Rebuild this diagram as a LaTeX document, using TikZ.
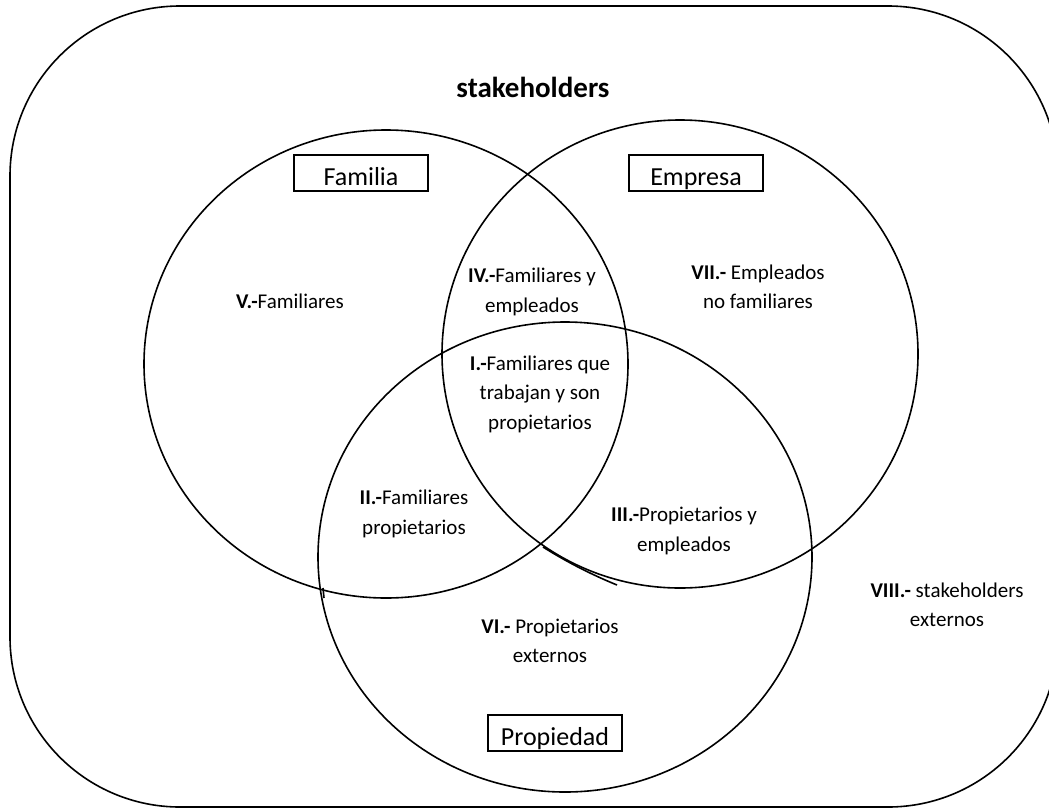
\documentclass[tikz,border=0pt]{standalone}
\usepackage{fontspec}
\setmainfont{Carlito}
\usetikzlibrary{positioning}

\tikzset{
  region/.style={align=center, inner sep=0pt, font=\fontsize{21}{29.5}\selectfont},
  setname/.style={draw, line width=1.5pt, minimum width=134pt, minimum height=36pt,
    inner sep=0pt, text height=24pt, text depth=0pt, font=\fontsize{26}{30}\selectfont},
  outline/.style={line width=1.6pt}
}

\begin{document}
\begin{tikzpicture}[x=1pt, y=-1pt]
  \useasboundingbox (0,0) rectangle (1049,809);

  \begin{scope}
    \clip (0,0) rectangle (1049,809);
    \draw[outline, rounded corners=170pt] (10,6) rectangle (1058,807);
  \end{scope}

  \node[font=\bfseries\fontsize{29}{34}\selectfont] at (533,87) (title) {stakeholders};

  \draw[outline] (386,364) ellipse [x radius=242, y radius=234];
  \draw[outline] (680,354) ellipse [x radius=238, y radius=234];
  \draw[outline] (565,557) ellipse [x radius=247, y radius=235];
  \draw[outline] (543,547) .. controls (570,564) and (595,576) .. (617,585);
  \draw[outline] (323,588) -- (324,598);

  \node[setname] at (361,173) (familia) {Familia};
  \node[setname] at (696,173) (empresa) {Empresa};
  \node[setname] at (555,733) (propiedad) {Propiedad};

  \node[region] at (290,301) (r5) {\textbf{V.-}Familiares};
  \node[region] at (532,292) (r4) {\textbf{IV.-}Familiares y\\empleados};
  \node[region] at (758,287) (r7) {\textbf{VII.-} Empleados\\no familiares};
  \node[region] at (540,394) (r1) {\textbf{I.-}Familiares que\\trabajan y son\\propietarios};
  \node[region] at (414,514) (r2) {\textbf{II.-}Familiares\\propietarios};
  \node[region] at (684,531) (r3) {\textbf{III.-}Propietarios y\\empleados};
  \node[region] at (550,641) (r6) {\textbf{VI.-} Propietarios\\externos};
  \node[region] at (947,605) (r8) {\textbf{VIII.-} stakeholders\\externos};
\end{tikzpicture}
\end{document}
